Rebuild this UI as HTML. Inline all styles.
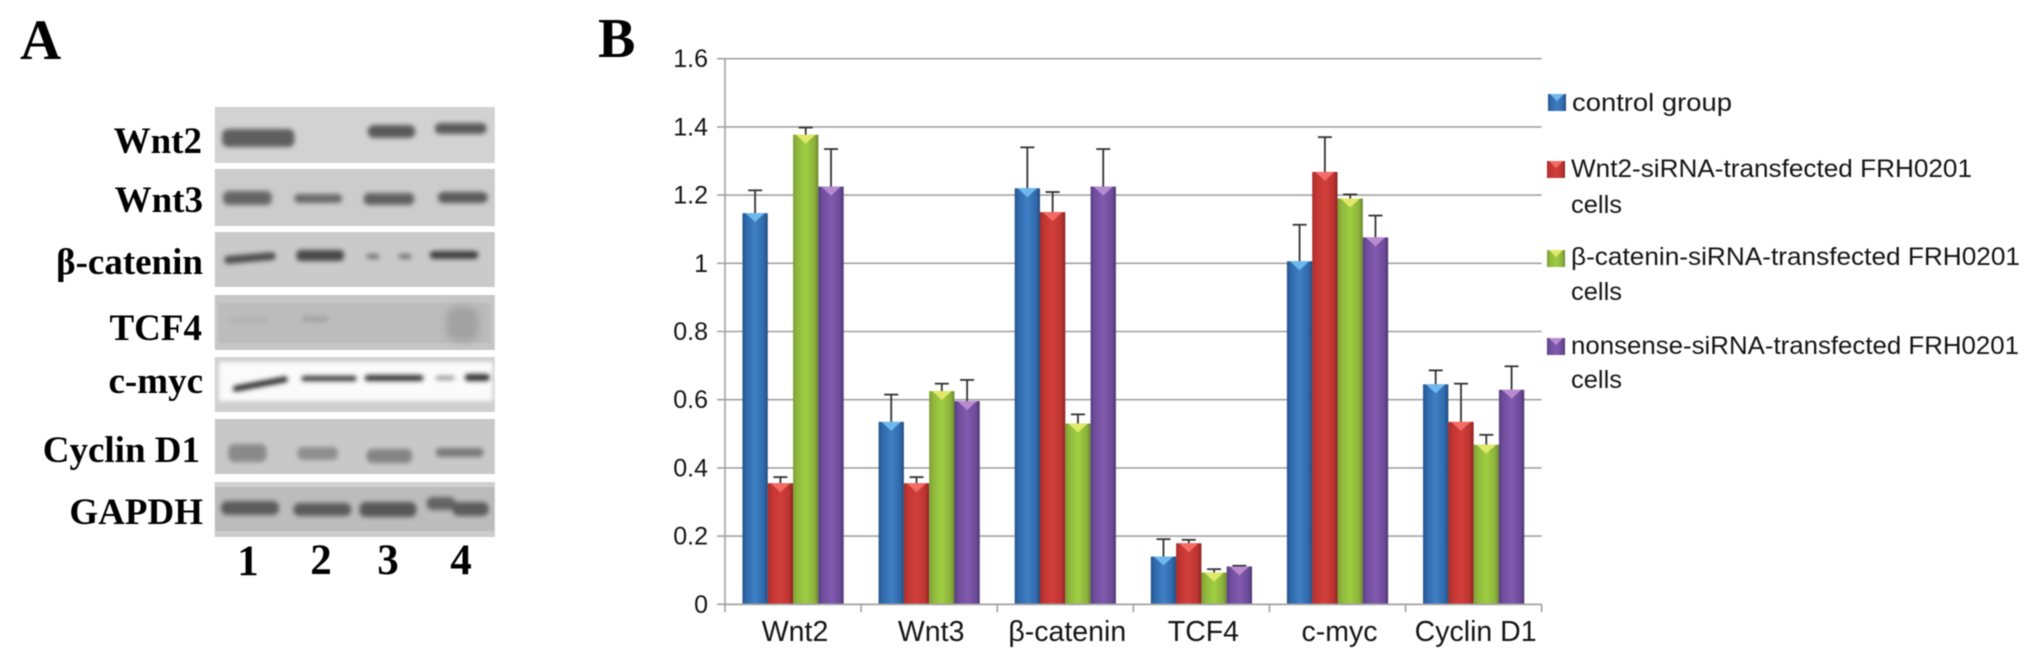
<!DOCTYPE html>
<html lang="en">
<head>
<meta charset="utf-8">
<title>Western blot and bar chart of protein expression</title>
<style>
html,body{margin:0;padding:0;background:#fff;width:2043px;height:665px;overflow:hidden}
svg{display:block;filter:blur(0.6px)}
.serif{font-family:"Liberation Serif","Noto Serif CJK SC",serif;font-weight:bold;fill:#000}
.sans{font-family:"Liberation Sans","Noto Sans CJK SC",sans-serif;fill:#151515}
</style>
</head>
<body>
<svg id="fig" xmlns="http://www.w3.org/2000/svg" width="2043" height="665" viewBox="0 0 2043 665">
<defs>
<filter id="b2" x="-30%" y="-80%" width="160%" height="260%"><feGaussianBlur stdDeviation="2.4"/></filter>
<filter id="b4" x="-50%" y="-50%" width="200%" height="200%"><feGaussianBlur stdDeviation="4"/></filter>
<linearGradient id="g0"><stop offset="0" stop-color="#24538c"/><stop offset=".15" stop-color="#2f69ab"/><stop offset=".5" stop-color="#3f7fc4"/><stop offset=".85" stop-color="#2f69ab"/><stop offset="1" stop-color="#24497c"/></linearGradient>
<linearGradient id="g1"><stop offset="0" stop-color="#a32d2b"/><stop offset=".15" stop-color="#c23532"/><stop offset=".5" stop-color="#d23f3b"/><stop offset=".85" stop-color="#bb3330"/><stop offset="1" stop-color="#8a2422"/></linearGradient>
<linearGradient id="g2"><stop offset="0" stop-color="#7b9e36"/><stop offset=".15" stop-color="#8fb63c"/><stop offset=".5" stop-color="#9fce42"/><stop offset=".85" stop-color="#8cb23b"/><stop offset="1" stop-color="#6a862e"/></linearGradient>
<linearGradient id="g3"><stop offset="0" stop-color="#573b80"/><stop offset=".15" stop-color="#6f4d9c"/><stop offset=".5" stop-color="#8259ae"/><stop offset=".85" stop-color="#6d4b99"/><stop offset="1" stop-color="#4d3572"/></linearGradient>
</defs>

<text class="serif" x="20" y="59" font-size="57">A</text>
<text class="serif" x="598" y="57" font-size="56">B</text>

<g transform="scale(1.033 1)">
  <g>
    <rect x="208" y="107" width="271" height="56" fill="#d2d2d2"/>
    <g filter="url(#b2)">
      <rect x="215" y="129" width="70" height="18" rx="6" fill="#5e5e5e"/>
      <rect x="356" y="125" width="46" height="13" rx="6" fill="#5a5a5a"/>
      <rect x="421" y="123" width="50" height="11" rx="5" fill="#5c5c5c"/>
    </g>
  </g>
  <g>
    <rect x="208" y="169" width="271" height="57" fill="#cccccc"/>
    <g filter="url(#b2)">
      <rect x="216" y="191" width="47" height="14" rx="5" fill="#666"/>
      <rect x="285" y="194" width="46" height="9" rx="4" fill="#6a6a6a"/>
      <rect x="352" y="193" width="49" height="12" rx="5" fill="#626262"/>
      <rect x="424" y="192" width="48" height="11" rx="5" fill="#5a5a5a"/>
    </g>
  </g>
  <g>
    <rect x="208" y="232" width="271" height="55" fill="#cacaca"/>
    <g filter="url(#b2)">
      <rect x="217" y="254" width="50" height="8" rx="4" fill="#505050" transform="rotate(-5 242 258)"/>
      <rect x="287" y="250" width="46" height="11" rx="4" fill="#4a4a4a"/>
      <rect x="355" y="254" width="12" height="5" rx="2" fill="#747474"/>
      <rect x="386" y="254" width="12" height="5" rx="2" fill="#747474"/>
      <rect x="416" y="251" width="47" height="8" rx="4" fill="#404040"/>
    </g>
  </g>
  <g>
    <rect x="208" y="295" width="271" height="55" fill="#c6c6c6"/>
    <rect x="212" y="303" width="263" height="40" fill="#bcbcbc"/>
    <g filter="url(#b2)">
      <rect x="222" y="318" width="38" height="4" rx="2" fill="#b0b0b0"/>
      <rect x="292" y="316" width="26" height="6" rx="3" fill="#a4a4a4"/>
    </g>
    <rect x="432" y="306" width="32" height="36" rx="12" fill="#a2a2a2" filter="url(#b4)"/>
  </g>
  <g>
    <rect x="208" y="357" width="271" height="55" fill="#cfcfcf"/>
    <rect x="212" y="362" width="265" height="39" fill="#fbfbfb" filter="url(#b2)"/>
    <g filter="url(#b2)">
      <rect x="225" y="381" width="54" height="6" rx="3" fill="#2e2e2e" transform="rotate(-11 252 384)"/>
      <rect x="292" y="376" width="53" height="5" rx="2" fill="#333"/>
      <rect x="353" y="375" width="57" height="6" rx="3" fill="#333"/>
      <rect x="422" y="376" width="18" height="4" rx="2" fill="#909090"/>
      <rect x="450" y="374" width="24" height="7" rx="3" fill="#333"/>
    </g>
  </g>
  <g>
    <rect x="208" y="419" width="271" height="55" fill="#c8c8c8"/>
    <g filter="url(#b2)">
      <rect x="221" y="444" width="37" height="18" rx="6" fill="#8a8a8a"/>
      <rect x="288" y="447" width="39" height="13" rx="5" fill="#8e8e8e"/>
      <rect x="355" y="449" width="44" height="14" rx="5" fill="#848484"/>
      <rect x="422" y="448" width="46" height="9" rx="4" fill="#7a7a7a"/>
    </g>
  </g>
  <g>
    <rect x="208" y="482" width="271" height="55" fill="#bcbcbc"/>
    <rect x="208" y="482" width="271" height="5" fill="#d0d0d0"/>
    <rect x="208" y="531" width="271" height="6" fill="#cccccc"/>
    <g filter="url(#b2)">
      <rect x="214" y="501" width="56" height="14" rx="6" fill="#5c5c5c"/>
      <rect x="284" y="503" width="56" height="13" rx="6" fill="#5c5c5c"/>
      <rect x="348" y="502" width="55" height="15" rx="6" fill="#585858"/>
      <rect x="413" y="497" width="28" height="13" rx="6" fill="#646464"/>
      <rect x="438" y="502" width="35" height="14" rx="6" fill="#5c5c5c"/>
    </g>
  </g>
</g>

<g>
  <text class="serif" x="202" y="153" font-size="37" text-anchor="end">Wnt2</text>
  <text class="serif" x="203" y="212" font-size="37" text-anchor="end">Wnt3</text>
  <text class="serif" x="203" y="274" font-size="37" text-anchor="end">β-catenin</text>
  <text class="serif" x="202" y="340" font-size="37" text-anchor="end">TCF4</text>
  <text class="serif" x="203" y="393" font-size="37" text-anchor="end">c-myc</text>
  <text class="serif" x="200" y="462" font-size="37" text-anchor="end">Cyclin D1</text>
  <text class="serif" x="203" y="524" font-size="37" text-anchor="end">GAPDH</text>
  <text class="serif" x="248" y="575" font-size="43" text-anchor="middle">1</text>
  <text class="serif" x="321" y="574" font-size="43" text-anchor="middle">2</text>
  <text class="serif" x="388" y="574" font-size="43" text-anchor="middle">3</text>
  <text class="serif" x="461" y="574" font-size="43" text-anchor="middle">4</text>
</g>

<g id="chart"></g>

<g>
  <g>
    <rect x="1548" y="94" width="18" height="17" fill="url(#g0)"/>
    <path d="M1550 94h14l-7 7z" fill="#6db8ee"/>
    <text class="sans" x="1572" y="111" font-size="25" textLength="160" lengthAdjust="spacingAndGlyphs">control group</text>
  </g>
  <g>
    <rect x="1547" y="161" width="18" height="17" fill="url(#g1)"/>
    <path d="M1549 161h14l-7 7z" fill="#f46a66"/>
    <text class="sans" x="1571" y="177" font-size="25" textLength="401" lengthAdjust="spacingAndGlyphs">Wnt2-siRNA-transfected FRH0201</text>
    <text class="sans" x="1571" y="213" font-size="25" textLength="51" lengthAdjust="spacingAndGlyphs">cells</text>
  </g>
  <g>
    <rect x="1547" y="250" width="18" height="17" fill="url(#g2)"/>
    <path d="M1549 250h14l-7 7z" fill="#e0e868"/>
    <text class="sans" x="1571" y="265" font-size="25" textLength="449" lengthAdjust="spacingAndGlyphs">β-catenin-siRNA-transfected  FRH0201</text>
    <text class="sans" x="1571" y="300" font-size="25" textLength="51" lengthAdjust="spacingAndGlyphs">cells</text>
  </g>
  <g>
    <rect x="1547" y="338" width="18" height="17" fill="url(#g3)"/>
    <path d="M1549 338h14l-7 7z" fill="#b88ad0"/>
    <text class="sans" x="1571" y="354" font-size="25" textLength="448" lengthAdjust="spacingAndGlyphs">nonsense-siRNA-transfected FRH0201</text>
    <text class="sans" x="1571" y="388" font-size="25" textLength="51" lengthAdjust="spacingAndGlyphs">cells</text>
  </g>
</g>
</svg>

<script>
const categories = ['Wnt2', 'Wnt3', 'β-catenin', 'TCF4', 'c-myc', 'Cyclin D1'];
const tickValues = [0, 0.2, 0.4, 0.6, 0.8, 1, 1.2, 1.4, 1.6];
const controlValues = [1.147, 0.535, 1.22, 0.14, 1.006, 0.645];
const controlErrors = [0.067, 0.08, 0.12, 0.051, 0.107, 0.041];
const wnt2Values = [0.355, 0.355, 1.15, 0.179, 1.268, 0.535];
const wnt2Errors = [0.018, 0.018, 0.059, 0.01, 0.102, 0.112];
const betaValues = [1.377, 0.625, 0.53, 0.093, 1.19, 0.468];
const betaErrors = [0.021, 0.022, 0.027, 0.01, 0.012, 0.029];
const nonsenseValues = [1.225, 0.596, 1.225, 0.111, 1.076, 0.629];
const nonsenseErrors = [0.11, 0.062, 0.11, 0.002, 0.064, 0.069];
const seriesNames = ['control', 'wnt2-sirna', 'beta-catenin-sirna', 'nonsense-sirna'];

const seriesValues = [controlValues, wnt2Values, betaValues, nonsenseValues];
const seriesErrors = [controlErrors, wnt2Errors, betaErrors, nonsenseErrors];
const tipColors = ['#6db8ee', '#f46a66', '#e0e868', '#b88ad0'];

const SVGNS = 'http://www.w3.org/2000/svg';
const chart = document.getElementById('chart');
const plot = {left: 725, right: 1541.7, top: 58.7, bottom: 604.3, max: 1.6};
const catWidth = (plot.right - plot.left) / categories.length;
const barWidth = 25.3;
const groupPad = (catWidth - barWidth * seriesValues.length) / 2;

function yScale(v) {
  return plot.bottom - (v / plot.max) * (plot.bottom - plot.top);
}
function xBar(c, s) {
  return plot.left + c * catWidth + groupPad + s * barWidth;
}
function make(tag, attrs, parent) {
  const el = document.createElementNS(SVGNS, tag);
  for (const k in attrs) el.setAttribute(k, attrs[k]);
  parent.appendChild(el);
  return el;
}

const gridLayer = make('g', {}, chart);


tickValues.forEach(function (t) {
  const y = yScale(t);
  const line = make('line', {x1: 717, x2: plot.right, y1: y, y2: y, stroke: '#a2a2a2', 'stroke-width': 1.6}, gridLayer);
  
  
  const label = make('text', {x: 708, y: y + 8.5, 'text-anchor': 'end', 'font-size': 25, class: 'sans'}, gridLayer);
  
  
  label.textContent = String(t);
});

const yAxis = make('line', {x1: plot.left, x2: plot.left, y1: plot.top, y2: plot.bottom + 8, stroke: '#a2a2a2', 'stroke-width': 1.6}, chart);



for (let i = 1; i <= categories.length; i++) {
  const x = plot.left + i * catWidth;
  const tick = make('line', {x1: x, x2: x, y1: plot.bottom, y2: plot.bottom + 8, stroke: '#a2a2a2', 'stroke-width': 1.6}, chart);
  
  
}

seriesValues.forEach(function (values, s) {
  const group = make('g', {}, chart);
  
  
  values.forEach(function (v, c) {
    const x = xBar(c, s);
    const y = yScale(v);
    const errTop = yScale(v + seriesErrors[s][c]);
    const cx = x + barWidth / 2;

    const stem = make('line', {x1: cx, x2: cx, y1: y, y2: errTop, stroke: '#333', 'stroke-width': 1.8}, group);
    
    
    const cap = make('line', {x1: cx - 7, x2: cx + 7, y1: errTop, y2: errTop, stroke: '#333', 'stroke-width': 1.8}, group);
    
    

    const bar = make('rect', {x: x, y: y, width: barWidth, height: plot.bottom - y, fill: 'url(#g' + s + ')'}, group);
    
    

    const tip = make('path', {d: 'M' + (x + 3) + ' ' + y + 'H' + (x + barWidth - 3) + 'L' + cx + ' ' + (y + 9) + 'Z', fill: tipColors[s]}, group);
    
    
  });
});

const baseline = make('line', {x1: plot.left, x2: plot.right, y1: plot.bottom, y2: plot.bottom, stroke: '#a2a2a2', 'stroke-width': 1.6}, chart);



categories.forEach(function (name, c) {
  const label = make('text', {x: plot.left + (c + 0.5) * catWidth + 2, y: 641, 'text-anchor': 'middle', 'font-size': 28.5, class: 'sans'}, chart);
  
  
  label.textContent = name;
});
</script>
</body>
</html>
